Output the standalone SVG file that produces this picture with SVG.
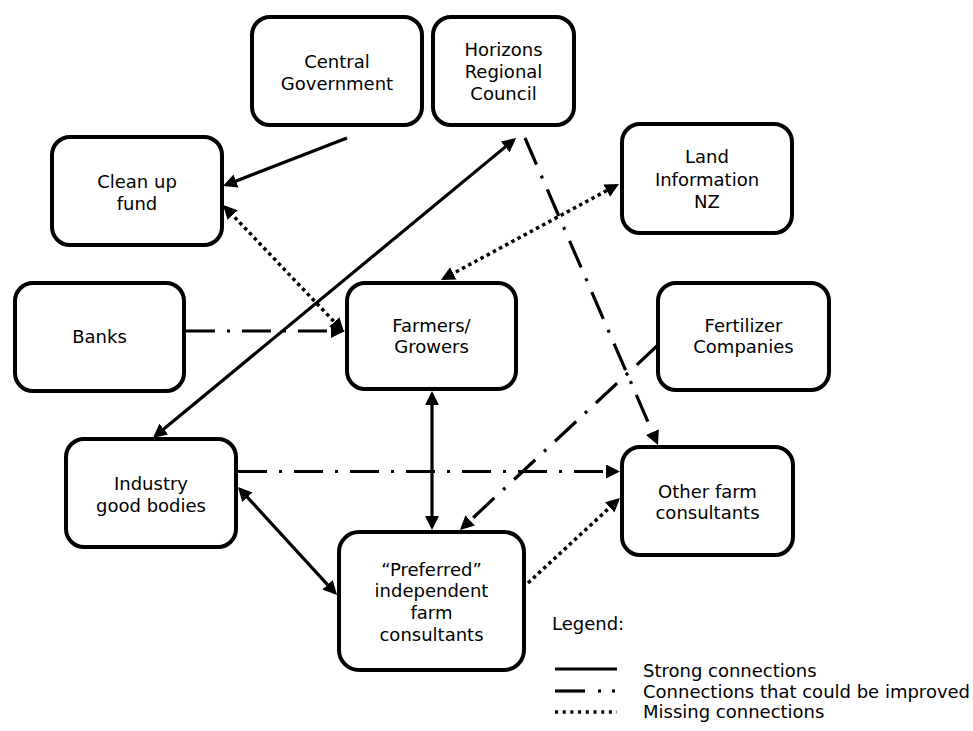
<svg xmlns="http://www.w3.org/2000/svg" width="973" height="731" viewBox="0 0 973 731">
<style>
.box{fill:#fff;stroke:#000;stroke-width:4}
text{font-family:"DejaVu Sans","Liberation Sans",sans-serif;font-size:18px;fill:#000}
.c{text-anchor:middle}
.ln{fill:none;stroke:#000;stroke-width:3.2}
.dd{stroke-dasharray:29 12 3 12}
.dt{stroke-dasharray:3.5 3.5;stroke-width:3.5}
</style>
<defs>
<marker id="ah" markerUnits="userSpaceOnUse" markerWidth="14" markerHeight="14" refX="11" refY="7" orient="auto-start-reverse" viewBox="0 0 14 14">
<path d="M0,0 L14,7 L0,14 z" fill="#000"/>
</marker>
<clipPath id="pclip"><rect x="330" y="520" width="200" height="121.5"/></clipPath>
</defs>
<rect width="973" height="731" fill="#fff"/>

<g id="connectors">
<line class="ln" x1="347" y1="138" x2="225.8" y2="185" marker-end="url(#ah)"/>
<line class="ln" x1="155.3" y1="436.1" x2="513.7" y2="139.9" marker-start="url(#ah)" marker-end="url(#ah)"/>
<line class="ln dd" x1="525" y1="138" x2="656.8" y2="442.2" marker-end="url(#ah)"/>
<line class="ln dt" x1="225.1" y1="207.2" x2="341.9" y2="329.8" marker-start="url(#ah)" marker-end="url(#ah)"/>
<line class="ln dd" x1="186" y1="331" x2="342" y2="331" marker-end="url(#ah)"/>
<line class="ln dt" x1="443.6" y1="278.6" x2="616.4" y2="185.4" marker-start="url(#ah)" marker-end="url(#ah)"/>
<line class="ln" x1="432" y1="394" x2="432" y2="527" marker-start="url(#ah)" marker-end="url(#ah)"/>
<line class="ln dd" x1="658" y1="345" x2="462.2" y2="528" marker-end="url(#ah)"/>
<line class="ln dd" x1="238" y1="471.5" x2="617" y2="471.5" marker-end="url(#ah)"/>
<line class="ln" x1="240" y1="489.2" x2="335" y2="592.8" marker-start="url(#ah)" marker-end="url(#ah)"/>
<line class="ln dt" x1="528" y1="583" x2="617.8" y2="500" marker-end="url(#ah)"/>
</g>

<g id="central-government">
<rect class="box" x="252" y="17" width="170" height="108" rx="18"/>
<text class="c" x="337" y="68">Central</text>
<text class="c" x="337" y="90">Government</text>
</g>
<g id="horizons">
<rect class="box" x="433" y="17" width="141" height="108" rx="18"/>
<text class="c" x="503.5" y="56">Horizons</text>
<text class="c" x="503.5" y="78">Regional</text>
<text class="c" x="503.5" y="100">Council</text>
</g>
<g id="clean-up-fund">
<rect class="box" x="52" y="137" width="170" height="108" rx="18"/>
<text class="c" x="137" y="188">Clean up</text>
<text class="c" x="137" y="210">fund</text>
</g>
<g id="land-information">
<rect class="box" x="622" y="124" width="170" height="109" rx="18"/>
<text class="c" x="707" y="163">Land</text>
<text class="c" x="707" y="186">Information</text>
<text class="c" x="707" y="208">NZ</text>
</g>
<g id="banks">
<rect class="box" x="15" y="283" width="169" height="108" rx="18"/>
<text class="c" x="99.5" y="343">Banks</text>
</g>
<g id="farmers">
<rect class="box" x="347" y="283" width="169" height="106" rx="18"/>
<text class="c" x="431.5" y="332">Farmers/</text>
<text class="c" x="431.5" y="353">Growers</text>
</g>
<g id="fertilizer">
<rect class="box" x="658" y="283" width="171" height="107" rx="18"/>
<text class="c" x="743.5" y="332">Fertilizer</text>
<text class="c" x="743.5" y="353">Companies</text>
</g>
<g id="industry">
<rect class="box" x="66" y="439" width="170" height="108" rx="18"/>
<text class="c" x="151" y="490">Industry</text>
<text class="c" x="151" y="512">good bodies</text>
</g>
<g id="other-consultants">
<rect class="box" x="622" y="447" width="171" height="108" rx="18"/>
<text class="c" x="707.5" y="498">Other farm</text>
<text class="c" x="707.5" y="519">consultants</text>
</g>
<g id="preferred">
<rect class="box" x="339" y="532" width="185" height="138" rx="20"/>
<g clip-path="url(#pclip)">
<text class="c" x="431.5" y="576">“Preferred”</text>
<text class="c" x="431.5" y="597">independent</text>
<text class="c" x="431.5" y="619">farm</text>
<text class="c" x="431.5" y="641">consultants</text>
</g>
</g>

<g id="legend">
<text x="552" y="630">Legend:</text>
<line class="ln" x1="555" y1="669" x2="617" y2="669"/>
<text x="643" y="677">Strong connections</text>
<line class="ln" x1="555" y1="691" x2="585" y2="691"/>
<line class="ln" x1="598" y1="691" x2="601" y2="691"/>
<line class="ln" x1="612" y1="691" x2="615" y2="691"/>
<text x="643" y="698">Connections that could be improved</text>
<line class="ln dt" x1="555" y1="712" x2="617" y2="712" style="stroke-dasharray:3 4.7"/>
<text x="643" y="718">Missing connections</text>
</g>
</svg>
